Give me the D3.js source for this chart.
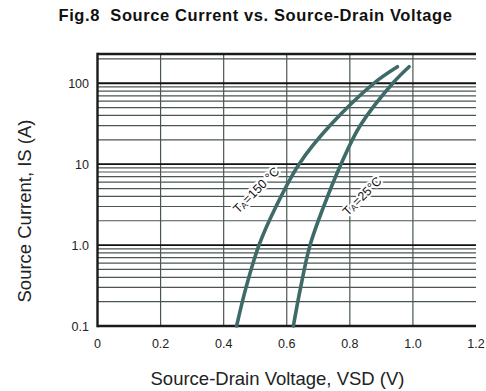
<!DOCTYPE html>
<html>
<head>
<meta charset="utf-8">
<script src="https://cdn.jsdelivr.net/npm/d3@7/dist/d3.min.js"></script>
<style>
  html, body { margin: 0; padding: 0; background: #fff; }
  svg { display: block; font-family: "Liberation Sans", Arial, sans-serif; }
</style>
</head>
<body>
<svg id="chart" width="486" height="391"></svg>
<script>
// Source current (A) vs. source-drain voltage (V) at two ambient temperatures
const currents = [0.1, 0.3, 1, 3, 10, 30, 100, 160];
const vsd150 = [0.441, 0.471, 0.512, 0.566, 0.639, 0.737, 0.876, 0.951];
const vsd25  = [0.621, 0.644, 0.674, 0.717, 0.772, 0.833, 0.936, 0.988];

const xTicks = [0, 0.2, 0.4, 0.6, 0.8, 1.0, 1.2];
const xTickLabels = ["0", "0.2", "0.4", "0.6", "0.8", "1.0", "1.2"];
const yTicks = [0.1, 1, 10, 100];
const yTickLabels = ["0.1", "1.0", "10", "100"];

const svg = d3.select("#chart");
const plotLeft = 97.5, plotRight = 476, plotTop = 54, plotBottom = 326;

const x = d3.scaleLinear().domain([0, 1.2]).range([plotLeft, plotRight]);
const y = d3.scaleLog().domain([0.1, 230]).range([plotBottom, plotTop]);

const gridColor = "#4a5654";
const curveColor = "#3e6b67";

// minor horizontal grid: 2..9 within each decade
const minor = [];
[0.1, 1, 10, 100].forEach(d => {
  for (let k = 2; k <= 9; k++) {
    const v = d * k;
    if (v < 230) minor.push(v);
  }
});

const grid = svg.append("g");
grid.selectAll("line.hminor").data(minor).join("line")
  .attr("x1", plotLeft).attr("x2", plotRight)
  .attr("y1", d => y(d)).attr("y2", d => y(d))
  .attr("stroke", gridColor).attr("stroke-width", 1.2);

grid.selectAll("line.vgrid").data(xTicks.slice(1, -1)).join("line")
  .attr("x1", d => x(d)).attr("x2", d => x(d))
  .attr("y1", plotTop).attr("y2", plotBottom)
  .attr("stroke", gridColor).attr("stroke-width", 1.2);

grid.selectAll("line.hmajor").data(yTicks.slice(1)).join("line")
  .attr("x1", plotLeft).attr("x2", plotRight)
  .attr("y1", d => y(d)).attr("y2", d => y(d))
  .attr("stroke", "#111").attr("stroke-width", 1.8);

// frame: heavy left, top and bottom edges
const frame = svg.append("g").attr("stroke", "#1a1a1a").attr("stroke-width", 2.4);
frame.append("line").attr("x1", plotLeft).attr("x2", plotLeft).attr("y1", plotTop - 1.2).attr("y2", plotBottom + 1.2);
frame.append("line").attr("x1", plotLeft).attr("x2", plotRight).attr("y1", plotTop).attr("y2", plotTop);
frame.append("line").attr("x1", plotLeft).attr("x2", plotRight).attr("y1", plotBottom).attr("y2", plotBottom);

// curves
const line = d3.line()
  .x(d => x(d[0]))
  .y(d => y(d[1]))
  .curve(d3.curveCatmullRom.alpha(0.5));

[vsd150, vsd25].forEach(series => {
  svg.append("path")
    .datum(series.map((v, i) => [v, currents[i]]))
    .attr("d", line)
    .attr("fill", "none")
    .attr("stroke", curveColor)
    .attr("stroke-width", 3.6)
    .attr("stroke-linecap", "round");
});

// temperature labels
function tempLabel(cx, cy, temp) {
  const t = svg.append("text")
    .attr("transform", `translate(${cx},${cy}) rotate(-45)`)
    .attr("text-anchor", "middle")
    .attr("dominant-baseline", "middle")
    .attr("font-size", 12.5)
    .attr("fill", "#111")
    .attr("stroke", "#fff").attr("stroke-width", 4)
    .attr("paint-order", "stroke")
    .attr("stroke-linejoin", "round");
  t.append("tspan").text("T");
  t.append("tspan").attr("font-size", 9).attr("dy", 2).text("A");
  t.append("tspan").attr("dy", -2).text("=" + temp);
}
tempLabel(257, 191, "150 °C");
tempLabel(363, 197, "25°C");

// tick labels
svg.append("g").selectAll("text").data(xTicks).join("text")
  .attr("x", d => x(d)).attr("y", 348)
  .attr("text-anchor", "middle")
  .attr("font-size", 12.5).attr("fill", "#222")
  .text((d, i) => xTickLabels[i]);

svg.append("g").selectAll("text").data(yTicks).join("text")
  .attr("x", 89).attr("y", d => y(d) + 4.5)
  .attr("text-anchor", "end")
  .attr("font-size", 12.5).attr("fill", "#222")
  .text((d, i) => yTickLabels[i]);

// titles
svg.append("text")
  .attr("x", 255.5).attr("y", 21)
  .attr("text-anchor", "middle")
  .attr("font-size", 16.5).attr("font-weight", "bold").attr("fill", "#111")
  .attr("letter-spacing", 0.6)
  .style("white-space", "pre")
  .text("Fig.8  Source Current vs. Source-Drain Voltage");

svg.append("text")
  .attr("x", 277.5).attr("y", 385)
  .attr("text-anchor", "middle")
  .attr("font-size", 18.5).attr("fill", "#222")
  .text("Source-Drain Voltage, VSD (V)");

svg.append("text")
  .attr("transform", "translate(31,211) rotate(-90)")
  .attr("text-anchor", "middle")
  .attr("font-size", 18.5).attr("fill", "#222")
  .text("Source Current, IS (A)");
</script>
</body>
</html>
